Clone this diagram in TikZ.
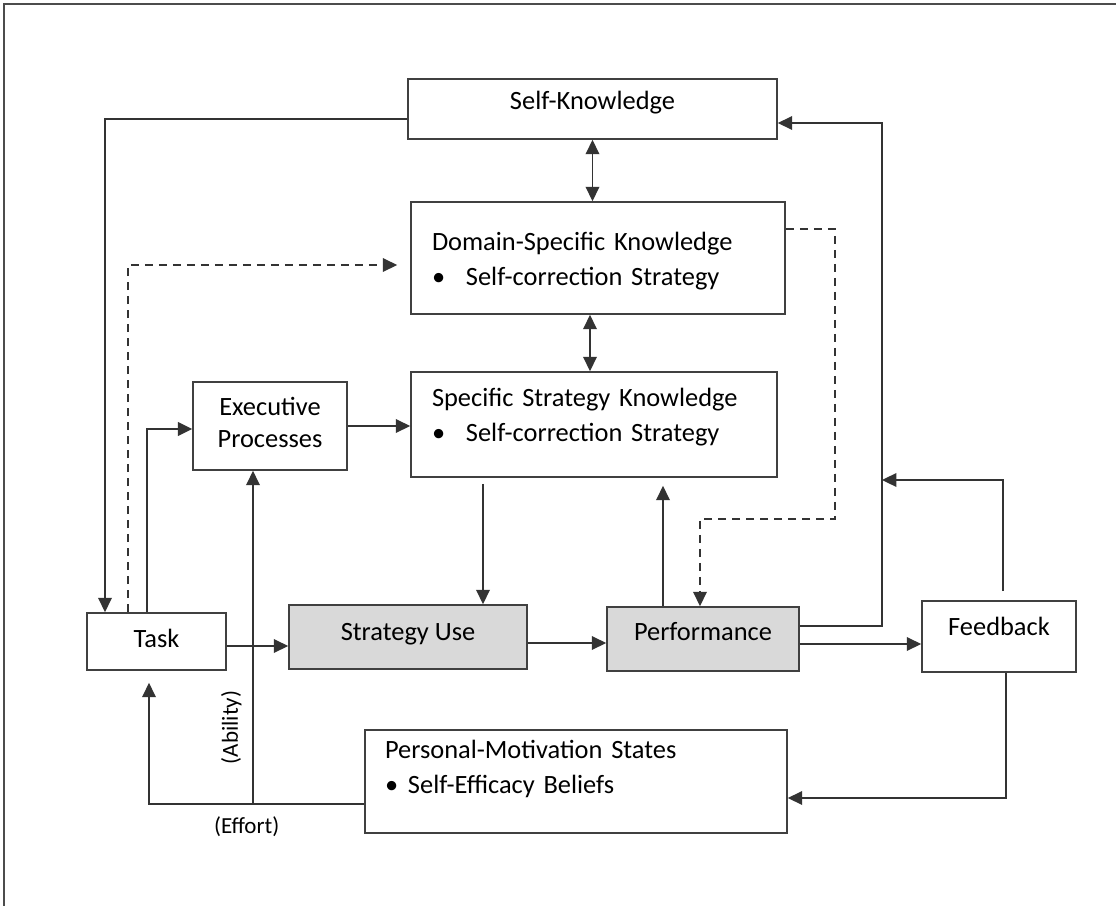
\documentclass[tikz,border=0pt]{standalone}
\usepackage{fontspec}
\setmainfont{Carlito}
\usetikzlibrary{arrows.meta, positioning}
\tikzstyle{box}=[draw=black!75, line width=0.8pt, rectangle, inner ysep=0pt, text height=9pt, font=\fontsize{13.2}{17.5}\selectfont]
\tikzstyle{grey box}=[box, fill=black!15]
\tikzstyle{list box}=[box, align=left]
\tikzstyle{link}=[draw=black!80, line width=0.8pt]
\tikzstyle{hint}=[link, dash pattern=on 4pt off 3pt]
\tikzstyle{note}=[font=\fontsize{11.5}{14}\selectfont]

\begin{document}
\begin{tikzpicture}[x=0.5pt, y=-0.5pt, >={Triangle[length=7.2pt,width=6.8pt]}]
	\useasboundingbox (0,0) rectangle (1116,906);
	\draw[black!70, line width=1pt] (1116,4) -- (4,4) -- (4,906);

	\node[box, minimum width=184.5pt, minimum height=30pt, text depth=8.5pt] (self) at (592.5,109) {Self-Knowledge};
	\node[list box, text width=166pt, inner xsep=10.5pt, minimum height=56pt, text depth=16.5pt] (domain) at (598,258) {Domain-Specific Knowledge\\\makebox[17pt][l]{\textbullet}Self-correction Strategy};
	\node[list box, text width=162pt, inner xsep=10.5pt, minimum height=52.5pt, text depth=27.5pt] (spec) at (594,424.5) {Specific Strategy Knowledge\\\makebox[17pt][l]{\textbullet}Self-correction Strategy};
	\node[box, align=center, text width=70pt, inner xsep=3.5pt, minimum height=44pt, text depth=19.5pt, font=\fontsize{13.2}{16}\selectfont] (exec) at (270,426) {Executive\\Processes};
	\node[box, minimum width=69.5pt, minimum height=28.5pt, text depth=3pt] (task) at (156.5,641.5) {Task};
	\node[grey box, minimum width=119pt, minimum height=32pt, text depth=5.5pt] (use) at (408,637) {Strategy Use};
	\node[grey box, minimum width=96pt, minimum height=32pt, text depth=7.5pt] (perf) at (703,639) {Performance};
	\node[box, minimum width=77pt, minimum height=35.5pt, text depth=10pt] (feed) at (999,636.5) {Feedback};
	\node[list box, text width=191pt, inner xsep=10pt, minimum height=51.5pt, text depth=32pt] (pers) at (576,781.5) {Personal-Motivation States\\\makebox[11.5pt][l]{\textbullet}Self-Efficacy Beliefs};

	\coordinate (ds) at ([xshift=-4pt]domain.south);
	\coordinate (su) at ([xshift=37.5pt]use.north);
	\coordinate (ps) at ([xshift=-20pt]perf.north);
	\coordinate (pf) at ([yshift=-2.5pt]perf.east);
	\coordinate (pw) at ([yshift=-11.25pt]pers.west);
	\coordinate (xa) at ([xshift=-8.5pt]exec.south);
	\coordinate (turn) at (835,519);
	\coordinate (up) at (882,123);
	\coordinate (fb) at (882,480);

	\draw[link,->] ([yshift=-5pt]self.west) -| ([xshift=-25.75pt]task.north);
	\draw[link,<->] (self.south) -- (self.south |- domain.north);
	\draw[link,<->] (ds) -- (ds |- spec.north);
	\draw[link,->] (exec.east) -- (exec.east -| spec.west);
	\draw[link,->, line width=1.3pt] ([xshift=-4.75pt]task.north) |- ([yshift=-1.5pt]exec.west);
	\draw[hint,->, shorten >=6.5pt] ([xshift=-14.25pt]task.north) |- ([yshift=-3.5pt]domain.west);
	\draw[hint,->] ([yshift=14.5pt]domain.east) -| (turn) -| ([xshift=-1.5pt]perf.north);
	\draw[link,->, shorten <=3pt] (su |- spec.south) -- (su);
	\draw[link,->, shorten >=4pt] (ps) -- (ps |- spec.south);
	\draw[link,->] ([yshift=-2.25pt]task.east) -- ([yshift=-4.5pt]use.west);
	\draw[link,->] ([yshift=-3pt]use.east) -- ([yshift=-2pt]perf.west);
	\draw[link,->] (pf) -- (pf -| feed.west);
	\draw[link,->] ([yshift=6.5pt]perf.east) -| (up) -- (up -| self.east);
	\draw[link,->] ([xshift=2pt,yshift=4.5pt]feed.north) |- (fb);
	\draw[link,->] ([xshift=3.5pt]feed.south) |- ([yshift=-8.25pt]pers.east);
	\draw[link,->, shorten >=6pt] (pw) -| node[pos=0.273, below=2.5pt, note] {(Effort)} ([xshift=-3.75pt]task.south);
	\draw[link,->] (xa |- pw) -- node[pos=0.23, sloped, above=2pt, note] {(Ability)} (xa);
\end{tikzpicture}
\end{document}
